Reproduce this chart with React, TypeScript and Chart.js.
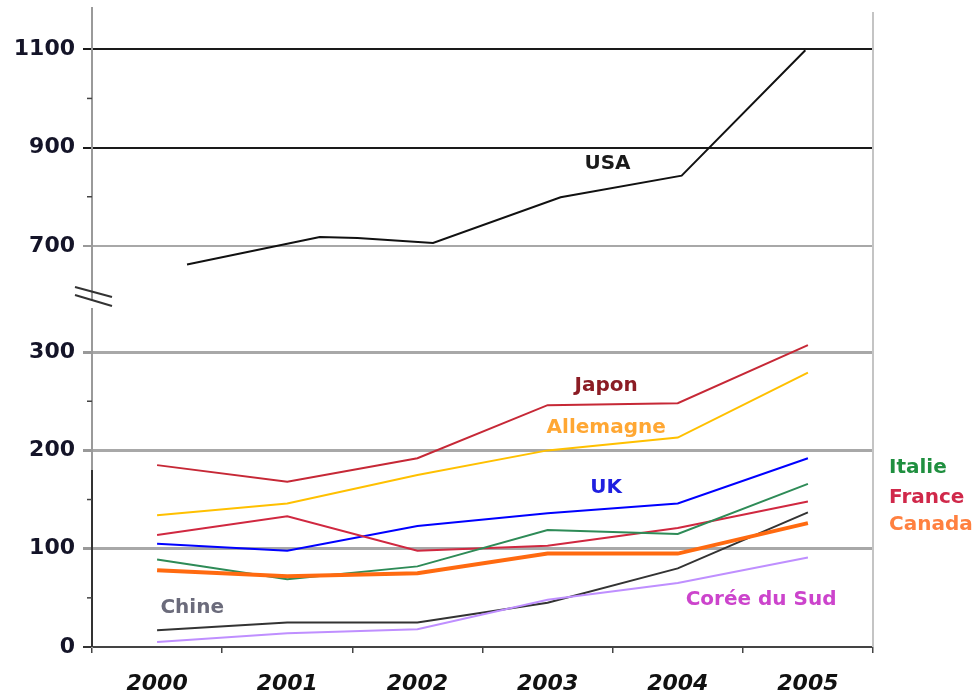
import { useEffect, useRef } from 'react';
import { Chart, registerables } from 'chart.js';

Chart.register(...registerables);

// ---------- data ----------
const YEARS = ['2000', '2001', '2002', '2003', '2004', '2005'];
const JAPON = [185, 168, 192, 246, 248, 307];
const ALLEMAGNE = [134, 146, 175, 200, 213, 279];
const UK = [105, 98, 123, 136, 146, 192];
const FRANCE = [114, 133, 98, 103, 121, 148];
const ITALIE = [89, 69, 82, 119, 115, 166];
const CANADA = [78, 72, 75, 95, 95, 126];
const CHINE = [17, 25, 25, 45, 80, 137];
const COREE = [5, 14, 18, 48, 65, 91];
// USA is drawn on the compressed upper segment, with its own (fractional) year positions
const USA_POS = [0.23, 1.25, 1.54, 2.12, 3.1, 4.03, 4.98];
const USA = [662, 718, 716, 706, 799, 843, 1098];

const LOWER_TICKS = [0, 100, 200, 300];
const UPPER_TICKS = [700, 900, 1100];
const LOWER_MINOR = [50, 150, 250];
const UPPER_MINOR = [800, 1000];

// ---------- broken axis mapping ----------
const UPPER_BASE = 408; // axis position where 700 sits
const UPPER_START = 700;
const up = (v: number) => UPPER_BASE + (v - UPPER_START) / 2;
const BREAK_AT = 354;

const TICK_LABELS = new Map<number, string>();
LOWER_TICKS.forEach((v) => TICK_LABELS.set(v, String(v)));
UPPER_TICKS.forEach((v) => TICK_LABELS.set(up(v), String(v)));

const FONT = '"DejaVu Sans", Verdana, sans-serif';

type Note = { text: string; color: string; x: number; y: number };
const NOTES: Note[] = [
  { text: 'USA', color: '#1a1a1a', x: 3.46, y: up(868) },
  { text: 'Japon', color: '#8B1C24', x: 3.45, y: 266 },
  { text: 'Allemagne', color: '#FFA733', x: 3.45, y: 223 },
  { text: 'UK', color: '#1F1FE0', x: 3.45, y: 162 },
  { text: 'Chine', color: '#6B6B7B', x: 0.27, y: 40 },
  { text: 'Corée du Sud', color: '#CC44CC', x: 4.64, y: 48 },
];
const SIDE_NOTES = [
  { text: 'Italie', color: '#1F8F3F', y: 182 },
  { text: 'France', color: '#D0284A', y: 152 },
  { text: 'Canada', color: '#FF8040', y: 124 },
];

const decorPlugin = {
  id: 'decor',
  afterDraw(chart: any) {
    const { ctx, chartArea } = chart;
    const y = chart.scales.y;
    const x = chart.scales.x;
    const left = chartArea.left;
    ctx.save();
    // right border
    ctx.strokeStyle = '#C4C4C4';
    ctx.lineWidth = 2;
    ctx.beginPath();
    ctx.moveTo(chartArea.right, chartArea.top + 4);
    ctx.lineTo(chartArea.right, chartArea.bottom);
    ctx.stroke();
    // dark lower part of the y axis
    ctx.strokeStyle = '#333';
    ctx.beginPath();
    ctx.moveTo(left, y.getPixelForValue(180));
    ctx.lineTo(left, chartArea.bottom);
    ctx.stroke();
    // minor ticks
    ctx.lineWidth = 1.5;
    ctx.strokeStyle = '#444';
    [...LOWER_MINOR, ...UPPER_MINOR.map(up)].forEach((v) => {
      const py = y.getPixelForValue(v);
      ctx.beginPath();
      ctx.moveTo(left - 5, py);
      ctx.lineTo(left, py);
      ctx.stroke();
    });
    // axis break
    const yb = y.getPixelForValue(BREAK_AT);
    ctx.fillStyle = '#fff';
    ctx.fillRect(left - 3, yb + 2, 6, 7);
    ctx.strokeStyle = '#333';
    ctx.lineWidth = 2;
    ctx.beginPath();
    ctx.moveTo(left - 17, yb - 12);
    ctx.lineTo(left + 20, yb - 2);
    ctx.moveTo(left - 17, yb - 4);
    ctx.lineTo(left + 20, yb + 7);
    ctx.stroke();
    // annotations
    ctx.font = `bold 20px ${FONT}`;
    ctx.textBaseline = 'middle';
    ctx.textAlign = 'center';
    NOTES.forEach((n) => {
      const px = x.left + ((n.x + 0.5) / YEARS.length) * (x.right - x.left);
      ctx.fillStyle = n.color;
      ctx.fillText(n.text, px, y.getPixelForValue(n.y));
    });
    ctx.textAlign = 'left';
    SIDE_NOTES.forEach((n) => {
      ctx.fillStyle = n.color;
      ctx.fillText(n.text, chartArea.right + 16, y.getPixelForValue(n.y));
    });
    ctx.restore();
  },
};

const line = (label: string, data: number[], color: string, width = 2) => ({
  label,
  data,
  borderColor: color,
  backgroundColor: color,
  borderWidth: width,
  pointRadius: 0,
  tension: 0,
  fill: false,
  xAxisID: 'x',
});

export default function App() {
  const ref = useRef<HTMLCanvasElement>(null);
  useEffect(() => {
    if (!ref.current) return;
    const chart = new Chart(ref.current, {
      type: 'line',
      data: {
        labels: YEARS,
        datasets: [
          line('Canada', CANADA, '#FF6A10', 4),
          line('Corée du Sud', COREE, '#BF8FFF'),
          line('Chine', CHINE, '#333333'),
          line('Italie', ITALIE, '#2E8B57'),
          line('France', FRANCE, '#D02840'),
          line('UK', UK, '#0000FF'),
          line('Allemagne', ALLEMAGNE, '#FFC000'),
          line('Japon', JAPON, '#C62836'),
          {
            label: 'USA',
            data: USA.map((v, i) => ({ x: USA_POS[i], y: up(v) })) as any,
            borderColor: '#111',
            backgroundColor: '#111',
            borderWidth: 2,
            pointRadius: 0,
            tension: 0,
            fill: false,
            xAxisID: 'xu',
          },
        ],
      },
      options: {
        animation: false,
        responsive: true,
        maintainAspectRatio: false,
        layout: { padding: { left: 0, right: 104, top: 8, bottom: 0 } },
        plugins: { legend: { display: false }, tooltip: { enabled: false } },
        scales: {
          x: {
            type: 'category',
            offset: true,
            grid: { drawOnChartArea: false, offset: true, tickLength: 6, color: '#444', lineWidth: 1.5 },
            border: { color: '#444', width: 2 },
            ticks: {
              font: { family: FONT, size: 22, weight: 'bold', style: 'italic' },
              color: '#111',
              padding: 18,
              maxRotation: 0,
            },
            afterFit: (s: any) => {
              s.height = 52;
              s.paddingLeft = 0;
              s.paddingRight = 0;
            },
          },
          xu: {
            type: 'linear',
            display: false,
            min: -0.5,
            max: YEARS.length - 0.5,
          },
          y: {
            type: 'linear',
            min: 0,
            max: 650,
            afterBuildTicks: (s: any) => {
              s.ticks = [...LOWER_TICKS, ...UPPER_TICKS.map(up)].map((v) => ({ value: v }));
            },
            afterFit: (s: any) => {
              s.width = 92;
              s.paddingTop = 0;
              s.paddingBottom = 0;
            },
            border: { color: '#9A9A9A', width: 2 },
            grid: {
              tickLength: 9,
              color: (c: any) => {
                const v = c.tick?.value;
                if (v === 0) return 'rgba(0,0,0,0)';
                if (v >= up(900)) return '#1a1a1a';
                return '#A8A8A8';
              },
              tickColor: (c: any) => {
                const v = c.tick?.value;
                if (v === 0) return '#333';
                if (v >= up(900)) return '#1a1a1a';
                return '#999';
              },
              lineWidth: (c: any) => {
                const v = c.tick?.value;
                return v > 0 && v <= 300 ? 3 : 2;
              },
            },
            ticks: {
              font: { family: FONT, size: 22, weight: 'bold' },
              color: '#141428',
              padding: 8,
              callback: (v: any) => TICK_LABELS.get(Number(v)) ?? '',
            },
          },
        },
      },
      plugins: [decorPlugin],
    });
    return () => chart.destroy();
  }, []);

  return (
    <div style={{ position: 'fixed', left: 0, top: 0, width: 977, height: 699, background: '#fff' }}>
      <canvas ref={ref} />
    </div>
  );
}
